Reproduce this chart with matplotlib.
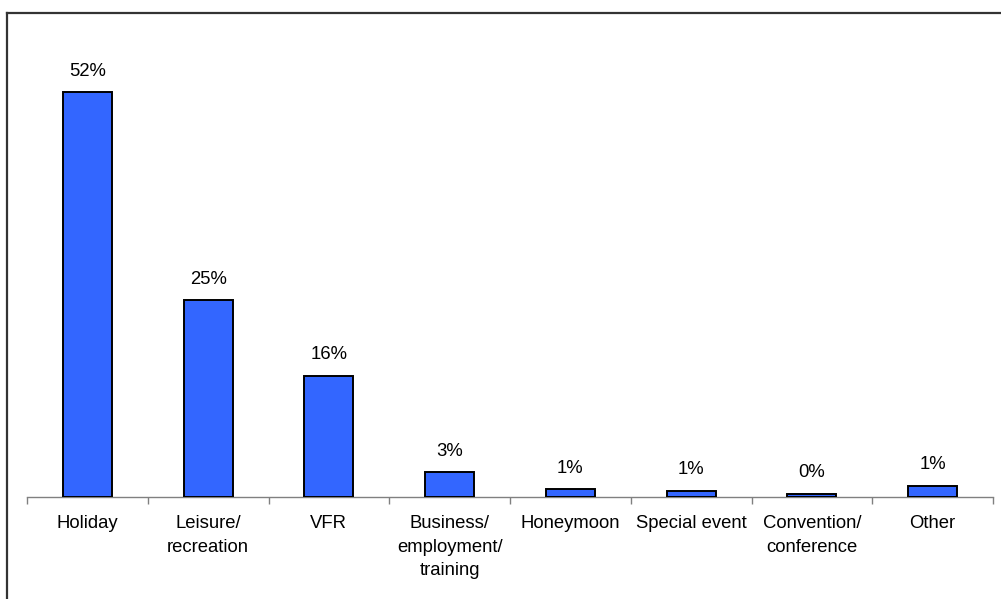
import matplotlib
matplotlib.use("Agg")
import matplotlib.pyplot as plt
from matplotlib.lines import Line2D
import numpy as np

# share of visitors by main purpose of visit (%)
categories = ["Holiday", "Leisure/\nrecreation", "VFR", "Business/\nemployment/\ntraining",
              "Honeymoon", "Special event", "Convention/\nconference", "Other"]
shares = [52.0, 25.3, 15.6, 3.2, 1.0, 0.8, 0.4, 1.45]

plt.rcParams['font.family'] = ['Liberation Sans', 'DejaVu Sans']

fig = plt.figure(figsize=(10.01, 5.99), dpi=100)
ax = fig.add_axes([0.027, 0.1703, 0.965, 0.7796])

x = np.arange(len(categories))
bars = ax.bar(x, shares, width=0.405, color="#3366FF", edgecolor="black", linewidth=1.4, zorder=3)

for b, v in zip(bars, shares):
    ax.annotate(f"{v:.0f}%", (b.get_x() + b.get_width() / 2, v), xytext=(0, 9),
                textcoords="offset points", ha="center", va="bottom", fontsize=13.3)

ax.set_xlim(-0.5, len(categories) - 0.5)
ax.set_ylim(0, 60)

for side in ["top", "right", "left"]:
    ax.spines[side].set_visible(False)
ax.spines["bottom"].set_color("#808080")
ax.spines["bottom"].set_linewidth(1)
ax.set_yticks([])

# labels under each bar, tick marks between categories
ax.set_xticks(x)
ax.set_xticklabels(categories, fontsize=13.3, linespacing=1.5)
ax.tick_params(axis="x", which="major", length=0, pad=13)
ax.set_xticks(np.arange(-0.5, len(categories)), minor=True)
ax.tick_params(axis="x", which="minor", length=5, width=1, color="#808080", direction="out")

# outer frame (top and left edges)
w, h = fig.get_size_inches() * fig.dpi
fig.add_artist(Line2D([7 / w, 1.0], [1 - 13 / h, 1 - 13 / h], transform=fig.transFigure,
                      color="#333333", linewidth=1.6))
fig.add_artist(Line2D([7 / w, 7 / w], [0, 1 - 13 / h], transform=fig.transFigure,
                      color="#333333", linewidth=1.6))

fig.savefig("out.png", dpi=100)
